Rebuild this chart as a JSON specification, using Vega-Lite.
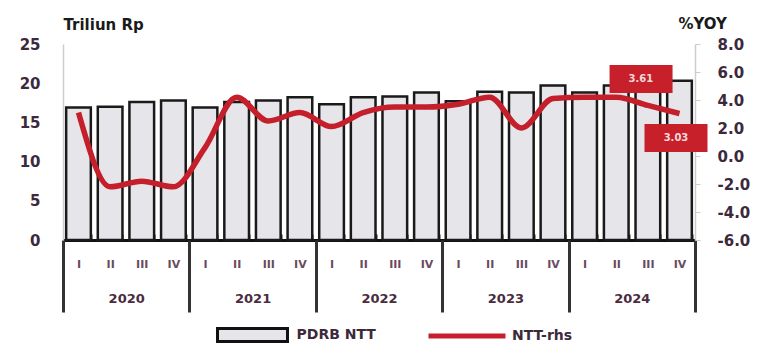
{
  "$schema": "https://vega.github.io/schema/vega-lite/v6.json",
  "width": 632,
  "height": 196,
  "autosize": {"type": "none"},
  "padding": {"left": 63, "top": 44, "right": 64, "bottom": 105},
  "background": "white",
  "config": {"view": {"stroke": null}, "font": "DejaVu Sans"},
  "data": {
    "values": [
      {"q": "2020-I", "year": "2020", "pdrb": 16.9, "ntt": 3.1},
      {"q": "2020-II", "year": "2020", "pdrb": 17.0, "ntt": -2.2},
      {"q": "2020-III", "year": "2020", "pdrb": 17.6, "ntt": -1.8},
      {"q": "2020-IV", "year": "2020", "pdrb": 17.8, "ntt": -2.2},
      {"q": "2021-I", "year": "2021", "pdrb": 16.9, "ntt": 0.6},
      {"q": "2021-II", "year": "2021", "pdrb": 17.6, "ntt": 4.2},
      {"q": "2021-III", "year": "2021", "pdrb": 17.8, "ntt": 2.5},
      {"q": "2021-IV", "year": "2021", "pdrb": 18.2, "ntt": 3.1},
      {"q": "2022-I", "year": "2022", "pdrb": 17.3, "ntt": 2.1},
      {"q": "2022-II", "year": "2022", "pdrb": 18.2, "ntt": 3.1},
      {"q": "2022-III", "year": "2022", "pdrb": 18.3, "ntt": 3.5},
      {"q": "2022-IV", "year": "2022", "pdrb": 18.8, "ntt": 3.5},
      {"q": "2023-I", "year": "2023", "pdrb": 17.7, "ntt": 3.7},
      {"q": "2023-II", "year": "2023", "pdrb": 18.9, "ntt": 4.2},
      {"q": "2023-III", "year": "2023", "pdrb": 18.8, "ntt": 2.0},
      {"q": "2023-IV", "year": "2023", "pdrb": 19.7, "ntt": 4.1},
      {"q": "2024-I", "year": "2024", "pdrb": 18.8, "ntt": 4.2},
      {"q": "2024-II", "year": "2024", "pdrb": 19.7, "ntt": 4.2},
      {"q": "2024-III", "year": "2024", "pdrb": 19.6, "ntt": 3.61},
      {"q": "2024-IV", "year": "2024", "pdrb": 20.3, "ntt": 3.03}
    ]
  },
  "layer": [
    {
      "layer": [
        {
          "mark": {"type": "bar", "stroke": "#1a1a1a", "strokeWidth": 2.5, "opacity": 1},
          "encoding": {
            "x": {
              "field": "q", "type": "nominal", "sort": null,
              "scale": {"type": "band", "paddingInner": 0.22, "paddingOuter": 0.1},
              "axis": {
                "title": null,
                "labelExpr": "split(datum.value, '-')[1]",
                "labelAngle": 0,
                "labelFont": "DejaVu Sans",
                "labelFontSize": 11,
                "labelFontWeight": "bold",
                "labelColor": "#6a4a5e",
                "labelPadding": 24,
                "ticks": true,
                "tickBand": "extent",
                "tickSize": -6,
                "tickWidth": 2,
                "tickColor": "#222222",
                "domainColor": "#111111",
                "domainWidth": 3,
                "grid": false
              }
            },
            "y": {
              "field": "pdrb", "type": "quantitative",
              "scale": {"domain": [0, 25], "nice": false},
              "axis": {
                "title": "Triliun Rp",
                "titleAngle": 0,
                "titleX": 0,
                "titleY": -20,
                "titleAlign": "left",
                "titleBaseline": "middle",
                "titleFont": "DejaVu Sans",
                "titleFontSize": 15,
                "titleFontWeight": "bold",
                "titleColor": "#1a1a1a",
                "values": [0, 5, 10, 15, 20, 25],
                "labelFont": "DejaVu Sans",
                "labelFontSize": 15,
                "labelFontWeight": "bold",
                "labelColor": "#3c2a3c",
                "labelPadding": 23,
                "ticks": false,
                "domainColor": "#cccccc",
                "domainWidth": 1.5,
                "grid": false
              }
            },
            "fill": {
              "datum": "PDRB NTT",
              "scale": {"domain": ["PDRB NTT"], "range": ["#e6e6ea"]},
              "legend": {
                "title": null,
                "orient": "none",
                "legendX": 149.5,
                "legendY": 251,
                "symbolType": "M-0.909,-0.169H0.909V0.169H-0.909Z",
                "symbolSize": 5929,
                "symbolStrokeColor": "#111111",
                "symbolStrokeWidth": 3,
                "symbolOpacity": 1,
                "labelFont": "DejaVu Sans",
                "labelFontSize": 14,
                "labelFontWeight": "bold",
                "labelColor": "#3c2a3c",
                "labelOffset": 4
              }
            }
          }
        },
        {
          "encoding": {
            "x": {"field": "q", "type": "nominal", "sort": null},
            "y": {
              "field": "ntt", "type": "quantitative",
              "scale": {"domain": [-6, 8], "nice": false, "zero": false},
              "axis": {
                "orient": "right",
                "title": "%YOY",
                "titleAngle": 0,
                "titleX": -17,
                "titleY": -21,
                "titleAlign": "left",
                "titleBaseline": "middle",
                "titleFont": "DejaVu Sans",
                "titleFontSize": 15,
                "titleFontWeight": "bold",
                "titleColor": "#1a1a1a",
                "values": [-6, -4, -2, 0, 2, 4, 6, 8],
                "labelExpr": "datum.value < 0 ? '-' + format(-datum.value, '.1f') : format(datum.value, '.1f')",
                "labelFont": "DejaVu Sans",
                "labelFontSize": 15,
                "labelFontWeight": "bold",
                "labelColor": "#3c2a3c",
                "labelPadding": 17,
                "ticks": true,
                "tickSize": 5,
                "tickColor": "#cccccc",
                "domainColor": "#cccccc",
                "domainWidth": 1.5,
                "grid": false
              }
            }
          },
          "layer": [
            {
              "mark": {"type": "line", "strokeWidth": 5.5, "interpolate": "monotone"},
              "encoding": {
                "stroke": {
                  "datum": "NTT-rhs",
                  "scale": {"domain": ["NTT-rhs"], "range": ["#c41f2b"]},
                  "legend": {
                    "title": null,
                    "orient": "none",
                    "legendX": 363,
                    "legendY": 251,
                    "symbolType": "stroke",
                    "symbolSize": 5929,
                    "symbolStrokeWidth": 5,
                    "symbolOpacity": 1,
                    "labelFont": "DejaVu Sans",
                    "labelFontSize": 14,
                    "labelFontWeight": "bold",
                    "labelColor": "#3c2a3c",
                    "labelOffset": 4
                  }
                }
              }
            },
            {
              "transform": [{"filter": "datum.q === '2024-III'"}],
              "mark": {"type": "point", "filled": true, "opacity": 1, "color": "#c8202a", "size": 3969, "shape": "M-1.216,-1.286H0.784V-0.397H-1.216Z"}
            },
            {
              "transform": [{"filter": "datum.q === '2024-IV'"}],
              "mark": {"type": "point", "filled": true, "opacity": 1, "color": "#c8202a", "size": 3969, "shape": "M-1.111,0.333H0.889V1.222H-1.111Z"}
            },
            {
              "transform": [{"filter": "datum.q === '2024-III'"}],
              "mark": {"type": "text", "color": "#f4dada", "font": "DejaVu Sans", "fontSize": 10, "fontWeight": "bold", "dx": -7, "dy": -26.5, "baseline": "middle", "align": "center"},
              "encoding": {"text": {"field": "ntt", "type": "quantitative", "format": ".2f"}}
            },
            {
              "transform": [{"filter": "datum.q === '2024-IV'"}],
              "mark": {"type": "text", "color": "#f4dada", "font": "DejaVu Sans", "fontSize": 10, "fontWeight": "bold", "dx": -3.5, "dy": 24.5, "baseline": "middle", "align": "center"},
              "encoding": {"text": {"field": "ntt", "type": "quantitative", "format": ".2f"}}
            }
          ]
        }
      ],
      "resolve": {"scale": {"y": "independent"}, "axis": {"y": "independent"}}
    },
    {
      "mark": {"type": "point", "opacity": 0},
      "encoding": {
        "x": {
          "field": "year", "type": "nominal", "sort": null,
          "scale": {"type": "band", "paddingInner": 0, "paddingOuter": 0},
          "axis": {
            "orient": "bottom",
            "title": null,
            "labelAngle": 0,
            "labelFont": "DejaVu Sans",
            "labelFontSize": 13,
            "labelFontWeight": "bold",
            "labelColor": "#4a2c40",
            "labelPadding": -20,
            "ticks": true,
            "tickBand": "extent",
            "tickSize": 72,
            "tickWidth": 3,
            "tickColor": "#333333",
            "domain": false,
            "grid": false
          }
        }
      }
    }
  ],
  "resolve": {"scale": {"x": "independent", "y": "independent"}, "axis": {"x": "independent"}}
}
